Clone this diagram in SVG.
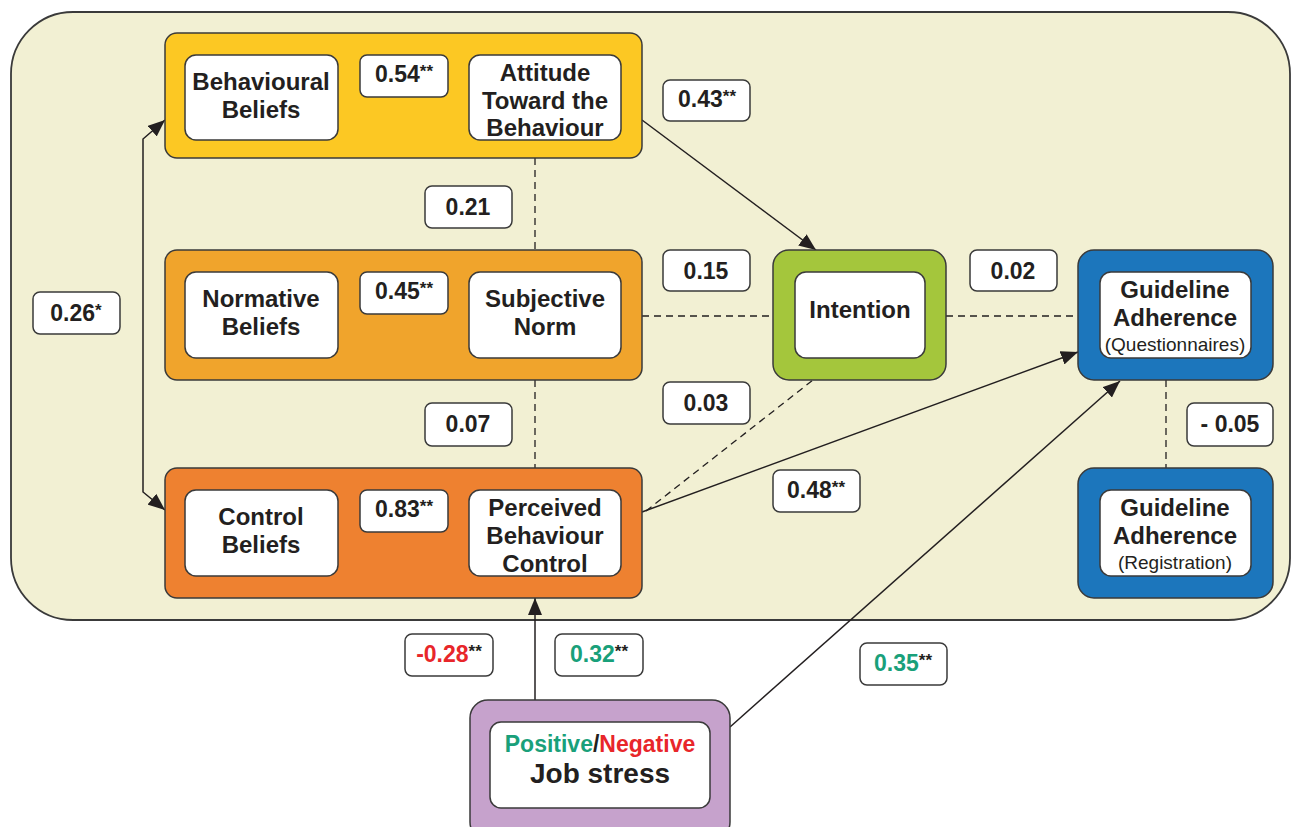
<svg xmlns="http://www.w3.org/2000/svg" width="1293" height="827" viewBox="0 0 1293 827">
<style>
text{font-family:"Liberation Sans",Arial,sans-serif;font-weight:bold;fill:#231f20;text-anchor:middle}
.nt{font-size:24px}
.sm{font-size:19px;font-weight:normal}
.lb{font-size:23px}
.st{font-size:17px}
.grp{stroke:#3a3a3a;stroke-width:1.5}
.box{fill:#fff;stroke:#3a3a3a;stroke-width:1.5}
.lab{fill:#fff;stroke:#3a3a3a;stroke-width:1.5}
.ln{fill:none;stroke:#231f20;stroke-width:1.5}
.dl{fill:none;stroke:#231f20;stroke-width:1.3;stroke-dasharray:7 5}
.g{fill:#19a07a}
.r{fill:#e8262a}
</style>
<defs>
<marker id="ah" viewBox="0 0 17 14" refX="17" refY="7" markerWidth="17" markerHeight="14" markerUnits="userSpaceOnUse" orient="auto-start-reverse">
<path d="M0,0 L17,7 L0,14 Z" fill="#231f20"/>
</marker>
</defs>
<rect x="0" y="0" width="1293" height="827" fill="#fff"/>
<rect id="panel" x="11" y="12" width="1279" height="608" rx="62" ry="62" fill="#f2f0d3" stroke="#3a3a3a" stroke-width="1.8"/>

<g id="connectors">
<line class="dl" x1="535" y1="158" x2="535" y2="250"/>
<line class="dl" x1="535" y1="380" x2="535" y2="468"/>
<line class="dl" x1="642" y1="316" x2="773" y2="316"/>
<line class="dl" x1="946" y1="316" x2="1078" y2="316"/>
<line class="dl" x1="1166" y1="380" x2="1166" y2="468"/>
<line class="dl" x1="646" y1="511" x2="813" y2="380"/>
<path class="ln" d="M338,118 L469,118" marker-end="url(#ah)"/>
<path class="ln" d="M338,337 L469,337" marker-end="url(#ah)"/>
<path class="ln" d="M338,555 L469,555" marker-end="url(#ah)"/>
<path class="ln" d="M642,120 L816,250" marker-end="url(#ah)"/>
<path class="ln" d="M642,512 L1078,352" marker-end="url(#ah)"/>
<path class="ln" d="M535,700 L535,598" marker-end="url(#ah)"/>
<path class="ln" d="M730,727 L1120,381" marker-end="url(#ah)"/>
<path class="ln" d="M165,120 L143,139 L143,492 L165,510" marker-start="url(#ah)" marker-end="url(#ah)"/>
</g>

<g id="attitude-group">
<rect class="grp" x="165" y="33" width="477" height="125" rx="12" fill="#fcc823"/>
</g>
<g id="norm-group">
<rect class="grp" x="165" y="250" width="477" height="130" rx="12" fill="#f0a42c"/>
</g>
<g id="control-group">
<rect class="grp" x="165" y="468" width="477" height="130" rx="12" fill="#ee8130"/>
</g>

<g id="behavioural-beliefs">
<rect class="box" x="185" y="55" width="153" height="85" rx="11"/>
<text class="nt" x="261" y="90">Behavioural</text>
<text class="nt" x="261" y="118">Beliefs</text>
</g>
<g id="attitude">
<rect class="box" x="469" y="55" width="152" height="85" rx="11"/>
<text class="nt" x="545" y="81">Attitude</text>
<text class="nt" x="545" y="109">Toward the</text>
<text class="nt" x="545" y="136">Behaviour</text>
</g>
<g id="normative-beliefs">
<rect class="box" x="185" y="272" width="153" height="86" rx="11"/>
<text class="nt" x="261" y="307">Normative</text>
<text class="nt" x="261" y="335">Beliefs</text>
</g>
<g id="subjective-norm">
<rect class="box" x="469" y="272" width="152" height="86" rx="11"/>
<text class="nt" x="545" y="307">Subjective</text>
<text class="nt" x="545" y="335">Norm</text>
</g>
<g id="control-beliefs">
<rect class="box" x="185" y="490" width="153" height="86" rx="11"/>
<text class="nt" x="261" y="525">Control</text>
<text class="nt" x="261" y="553">Beliefs</text>
</g>
<g id="pbc">
<rect class="box" x="469" y="490" width="152" height="86" rx="11"/>
<text class="nt" x="545" y="516">Perceived</text>
<text class="nt" x="545" y="544">Behaviour</text>
<text class="nt" x="545" y="572">Control</text>
</g>
<g id="intention">
<rect class="grp" x="773" y="250" width="173" height="130" rx="16" fill="#a4c63c"/>
<rect class="box" x="795" y="272" width="130" height="86" rx="11"/>
<text class="nt" x="860" y="318">Intention</text>
</g>
<g id="ga-questionnaires">
<rect class="grp" x="1078" y="250" width="195" height="130" rx="16" fill="#1c76bc"/>
<rect class="box" x="1100" y="272" width="151" height="86" rx="11"/>
<text class="nt" x="1175" y="298">Guideline</text>
<text class="nt" x="1175" y="326">Adherence</text>
<text class="sm" x="1175" y="351">(Questionnaires)</text>
</g>
<g id="ga-registration">
<rect class="grp" x="1078" y="468" width="195" height="130" rx="16" fill="#1c76bc"/>
<rect class="box" x="1100" y="490" width="151" height="86" rx="11"/>
<text class="nt" x="1175" y="516">Guideline</text>
<text class="nt" x="1175" y="544">Adherence</text>
<text class="sm" x="1175" y="569">(Registration)</text>
</g>
<g id="job-stress">
<rect class="grp" x="470" y="700" width="260" height="140" rx="18" fill="#c6a2cc"/>
<rect class="box" x="490" y="722" width="220" height="86" rx="11"/>
<text x="600" y="752" style="font-size:23px"><tspan class="g">Positive</tspan>/<tspan class="r">Negative</tspan></text>
<text x="600" y="783" style="font-size:28px">Job stress</text>
</g>

<g id="labels">
<rect class="lab" x="360" y="55" width="88" height="42" rx="7"/>
<text class="lb" x="404" y="82">0.54<tspan class="st" dy="-5">**</tspan></text>
<rect class="lab" x="663" y="80" width="87" height="41" rx="7"/>
<text class="lb" x="707" y="107">0.43<tspan class="st" dy="-5">**</tspan></text>
<rect class="lab" x="425" y="186" width="87" height="42" rx="7"/>
<text class="lb" x="468" y="215">0.21</text>
<rect class="lab" x="360" y="272" width="88" height="42" rx="7"/>
<text class="lb" x="404" y="299">0.45<tspan class="st" dy="-5">**</tspan></text>
<rect class="lab" x="663" y="250" width="87" height="41" rx="7"/>
<text class="lb" x="706" y="279">0.15</text>
<rect class="lab" x="970" y="250" width="87" height="41" rx="7"/>
<text class="lb" x="1013" y="279">0.02</text>
<rect class="lab" x="33" y="292" width="87" height="42" rx="7"/>
<text class="lb" x="76" y="321">0.26<tspan class="st" dy="-5">*</tspan></text>
<rect class="lab" x="663" y="382" width="87" height="42" rx="7"/>
<text class="lb" x="706" y="411">0.03</text>
<rect class="lab" x="425" y="403" width="87" height="43" rx="7"/>
<text class="lb" x="468" y="432">0.07</text>
<rect class="lab" x="1187" y="403" width="86" height="43" rx="7"/>
<text class="lb" x="1230" y="432">- 0.05</text>
<rect class="lab" x="360" y="490" width="88" height="42" rx="7"/>
<text class="lb" x="404" y="517">0.83<tspan class="st" dy="-5">**</tspan></text>
<rect class="lab" x="773" y="470" width="87" height="42" rx="7"/>
<text class="lb" x="816" y="498">0.48<tspan class="st" dy="-5">**</tspan></text>
<rect class="lab" x="405" y="634" width="88" height="42" rx="7"/>
<text class="lb" x="449" y="662"><tspan class="r">-0.28</tspan><tspan class="st" dy="-5">**</tspan></text>
<rect class="lab" x="555" y="634" width="88" height="42" rx="7"/>
<text class="lb" x="599" y="662"><tspan class="g">0.32</tspan><tspan class="st" dy="-5">**</tspan></text>
<rect class="lab" x="860" y="643" width="87" height="42" rx="7"/>
<text class="lb" x="903" y="671"><tspan class="g">0.35</tspan><tspan class="st" dy="-5">**</tspan></text>
</g>
</svg>
